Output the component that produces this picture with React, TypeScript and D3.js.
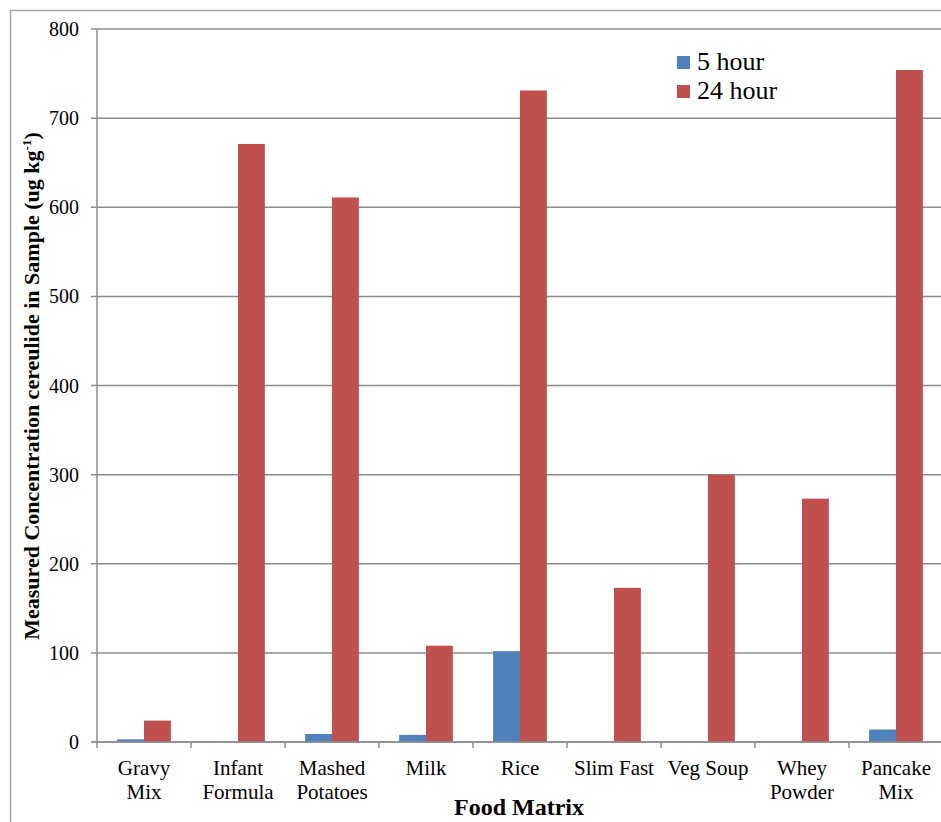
import React from "react";
import * as d3 from "d3";

const categories = [
  ["Gravy", "Mix"],
  ["Infant", "Formula"],
  ["Mashed", "Potatoes"],
  ["Milk"],
  ["Rice"],
  ["Slim Fast"],
  ["Veg Soup"],
  ["Whey", "Powder"],
  ["Pancake", "Mix"],
];
const hour5 = [3, 0, 9, 8, 102, 0, 0, 0, 14];
const hour24 = [24, 671, 611, 108, 731, 173, 300, 273, 754];
const yTicks = [0, 100, 200, 300, 400, 500, 600, 700, 800];
const seriesNames = ["5 hour", "24 hour"];
const seriesColors = ["#4F81BD", "#C0504D"];

export default function App() {
  const W = 941, H = 822;
  const left = 97, right = 943, top = 29, bottom = 742;
  const font = "Liberation Serif, Tinos, Times New Roman, DejaVu Serif, serif";
  const keys = categories.map((c) => c.join(" "));
  const x = d3.scaleBand<string>().domain(keys).range([left, right]).padding(0);
  const y = d3.scaleLinear().domain([0, 800]).range([bottom, top]);
  const bw = x.bandwidth();
  const inner = d3.scaleBand<number>().domain([0, 1]).range([0, bw]).paddingInner(0).paddingOuter(0.75);
  const series = [hour5, hour24];
  const grid = "#8c8c8c";
  const ts = { fontFamily: font };
  return (
    <svg width={W} height={H} style={{ position: "absolute", left: 0, top: 0, fontFamily: font }}>
      <rect x={0} y={0} width={W} height={H} fill="#fff" />
      <rect x={10.5} y={10.5} width={W + 20} height={H + 20} fill="none" stroke="#a6a6a6" strokeWidth={1.5} />
      {yTicks.map((t) => (
        <g key={t}>
          <line x1={left - 6} x2={right} y1={y(t)} y2={y(t)} stroke={grid} strokeWidth={1.5} />
          <text x={79} y={y(t)} dy="0.35em" textAnchor="end" fontSize={20} fill="#000" style={ts}>{t}</text>
        </g>
      ))}
      <line x1={left} x2={left} y1={top} y2={bottom} stroke={grid} strokeWidth={1.5} />
      {keys.map((k, i) => (
        <line key={"tk" + i} x1={x(k)!} x2={x(k)!} y1={bottom} y2={bottom + 6} stroke={grid} strokeWidth={1.5} />
      ))}
      <line x1={right} x2={right} y1={bottom} y2={bottom + 6} stroke={grid} strokeWidth={1.5} />
      {series.map((vals, si) =>
        vals.map((v, i) => (
          <rect
            key={si + "-" + i}
            x={x(keys[i])! + inner(si)!}
            y={y(v)}
            width={inner.bandwidth()}
            height={y(0) - y(v)}
            fill={seriesColors[si]}
          />
        ))
      )}
      <line x1={left - 6} x2={right} y1={bottom} y2={bottom} stroke={grid} strokeWidth={1.5} />
      {categories.map((lines, i) => (
        <text key={"xl" + i} x={x(keys[i])! + bw / 2} y={775} textAnchor="middle" fontSize={21} fill="#000" style={ts}>
          {lines.map((l, j) => (
            <tspan key={j} x={x(keys[i])! + bw / 2} dy={j === 0 ? 0 : 24}>{l}</tspan>
          ))}
        </text>
      ))}
      <text x={519} y={815} textAnchor="middle" fontSize={24} fontWeight="bold" fill="#000" style={ts}>Food Matrix</text>
      <text
        transform={`translate(39,386) rotate(-90)`}
        textAnchor="middle"
        fontSize={22}
        fontWeight="bold"
        fill="#000"
        style={ts}
      >
        Measured Concentration cereulide in Sample (ug kg<tspan dy={-8} fontSize={13}>-1</tspan><tspan dy={8}>)</tspan>
      </text>
      {seriesNames.map((n, i) => (
        <g key={n}>
          <rect x={677} y={56 + i * 29} width={13} height={13} fill={seriesColors[i]} />
          <text x={697} y={70 + i * 29} fontSize={26} fill="#000" style={ts}>{n}</text>
        </g>
      ))}
    </svg>
  );
}
